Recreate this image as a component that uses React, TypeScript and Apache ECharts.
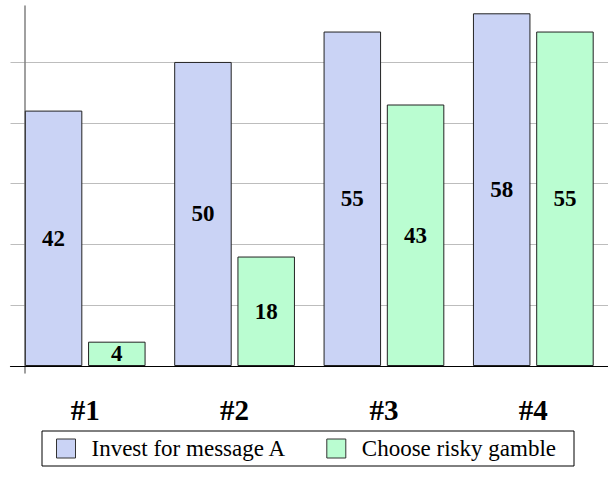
import React, { useEffect, useRef } from "react";
import * as echarts from "echarts";

const categories = ["#1", "#2", "#3", "#4"];
const investValues = [42, 50, 55, 58];
const gambleValues = [4, 18, 43, 55];
const seriesNames = ["Invest for message A", "Choose risky gamble"];

const SERIF = "'Liberation Serif', 'Times New Roman', Times, serif";

export default function App() {
  const ref = useRef<HTMLDivElement>(null);
  useEffect(() => {
    document.body.style.margin = "0";
    if (!ref.current) return;
    const chart = echarts.init(ref.current, null, { renderer: "svg" });
    const labelStyle = {
      show: true,
      position: "inside",
      color: "#000",
      fontFamily: SERIF,
      fontWeight: "bold",
      fontSize: 23,
      textBorderWidth: 0,
    };
    chart.setOption({
      animation: false,
      backgroundColor: "#fff",
      grid: { left: 10.5, right: -2.5, top: 6, bottom: 111, containLabel: false },
      xAxis: {
        type: "category",
        data: categories,
        axisLine: { show: true, onZero: true, lineStyle: { color: "#000", width: 1.2 } },
        axisTick: { show: false },
        axisLabel: {
          margin: 22,
          fontFamily: SERIF,
          fontWeight: "bold",
          fontSize: 29,
          lineHeight: 29,
          color: "#000",
        },
        splitLine: { show: false },
      },
      yAxis: {
        type: "value",
        min: -1.15,
        max: 59.2,
        splitNumber: 6,
        offset: -14,
        axisLine: { show: true, onZero: false, lineStyle: { color: "#808080", width: 1.5 } },
        axisTick: { show: false },
        axisLabel: { show: false },
        splitLine: {
          show: true,
          showMinLine: false,
          showMaxLine: false,
          lineStyle: { color: "#bdbdbd", width: 1.2 },
        },
      },
      legend: {
        left: 42,
        top: 431,
        orient: "horizontal",
        padding: [6, 18, 6, 14],
        borderColor: "#000",
        borderWidth: 1,
        itemWidth: 19,
        itemHeight: 19,
        itemGap: 40,
        icon: "rect",
        itemStyle: { borderColor: "#333", borderWidth: 1 },
        textStyle: {
          fontFamily: SERIF,
          fontSize: 23,
          color: "#000",
          padding: [0, 0, 0, 11],
        },
        data: seriesNames,
      },
      series: [
        {
          name: seriesNames[0],
          type: "bar",
          data: investValues,
          barWidth: 57.5,
          barGap: "10%",
          itemStyle: { color: "#cad3f5", borderColor: "#222", borderWidth: 1 },
          label: labelStyle,
        },
        {
          name: seriesNames[1],
          type: "bar",
          data: gambleValues,
          barWidth: 57.5,
          barGap: "10%",
          itemStyle: { color: "#bafdd1", borderColor: "#222", borderWidth: 1 },
          label: labelStyle,
        },
      ],
    });
    return () => chart.dispose();
  }, []);
  return <div ref={ref} style={{ width: 608, height: 484 }} />;
}
